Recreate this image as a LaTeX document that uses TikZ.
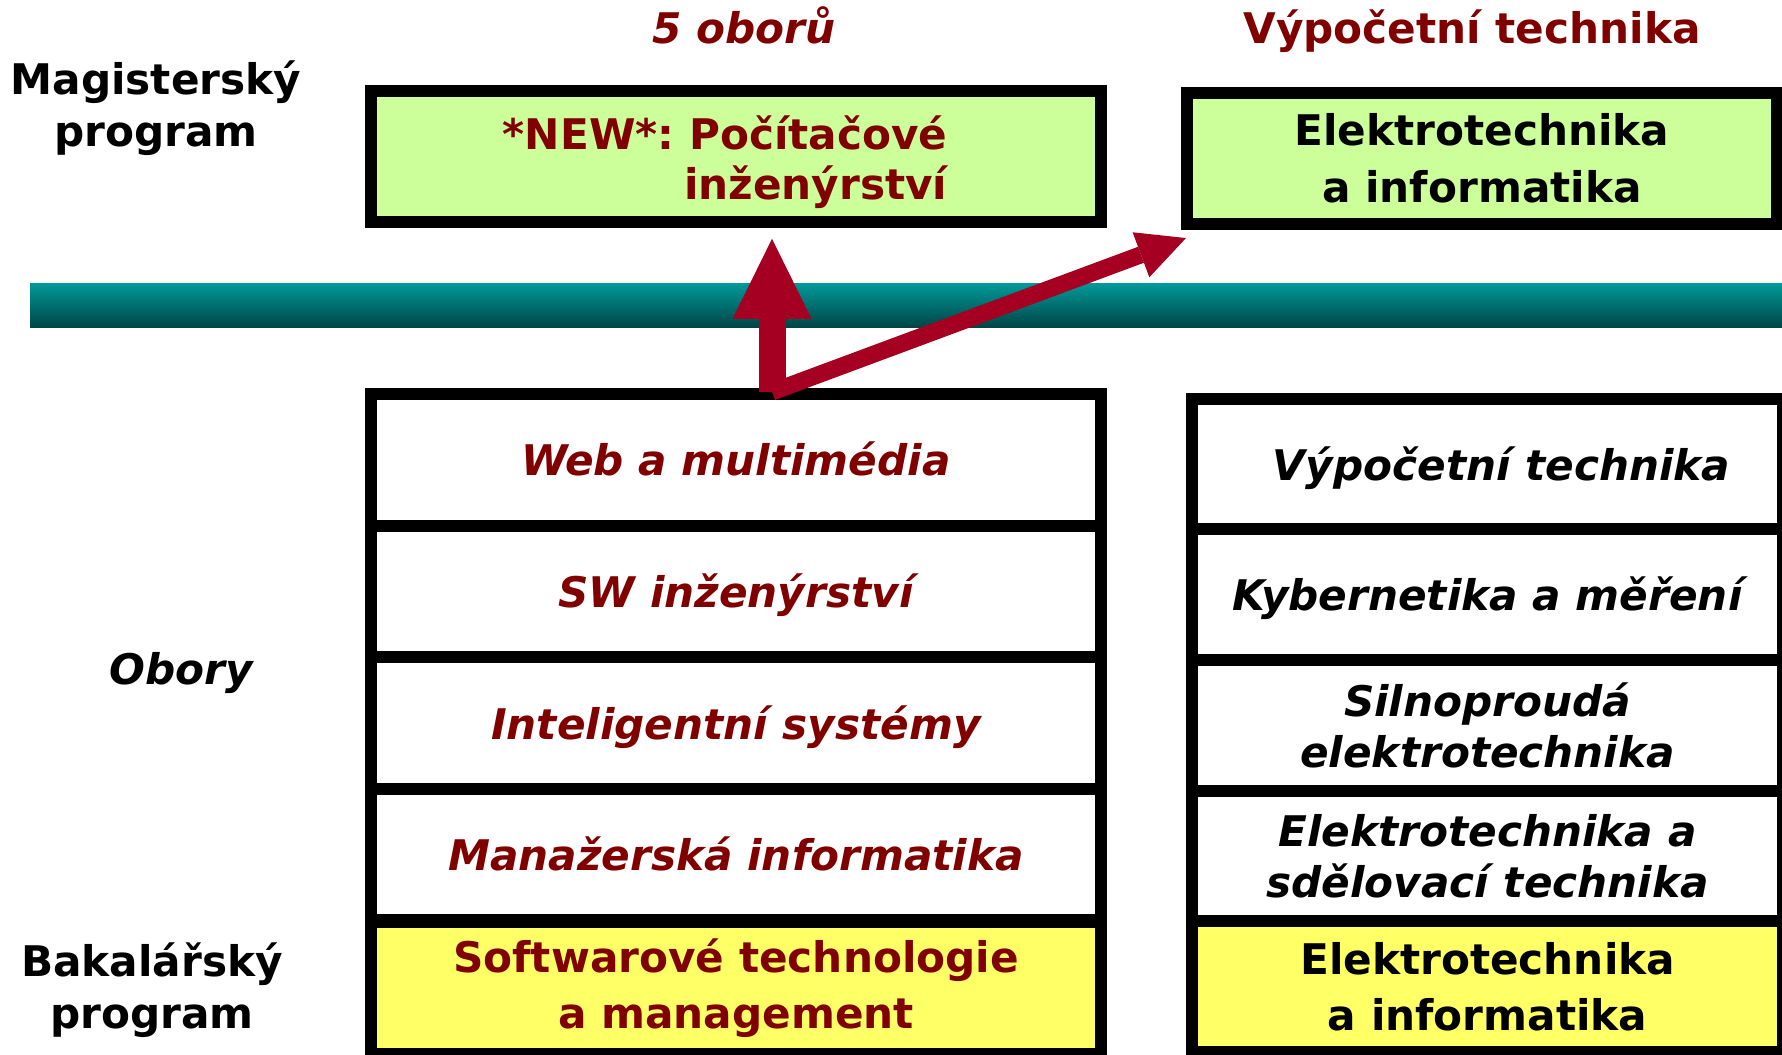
\documentclass[tikz,border=0pt]{standalone}
\usepackage{fontspec}
\setmainfont{DejaVu Sans}
\usetikzlibrary{arrows.meta}

\definecolor{txtred}{HTML}{800000}
\definecolor{arrowred}{HTML}{A50021}
\definecolor{boxgreen}{HTML}{CCFF99}
\definecolor{boxyellow}{HTML}{FFFF66}
\definecolor{barteal}{HTML}{009999}
\definecolor{bardark}{HTML}{004444}

\tikzset{
  sidetext/.style={font=\bfseries\fontsize{12}{14.8}\selectfont, align=center, inner sep=0pt},
  headtext/.style={font=\bfseries\fontsize{12}{14.5}\selectfont, text=txtred, inner sep=0pt},
  magbox/.style={draw, line width=0.12cm, fill=boxgreen, minimum height=1.305cm, inner sep=0pt,
    align=center, font=\bfseries\fontsize{12}{16.2}\selectfont},
  leftrow/.style={draw, line width=0.12cm, fill=white, minimum width=7.3cm, minimum height=1.316cm,
    inner sep=0pt, align=center, text=txtred, font=\bfseries\itshape\fontsize{12}{14.7}\selectfont},
  rightrow/.style={leftrow, minimum width=5.902cm, minimum height=1.307cm, text=black},
  oneline/.style={text height=0.92em, text depth=0pt},
  bachrow/.style={fill=boxyellow, font=\bfseries\fontsize{12}{15.8}\selectfont},
  uparrow/.style={draw=arrowred, line width=0.27cm,
    -{Triangle[length=0.8cm, width=0.79cm, line width=0pt]}},
  sidearrow/.style={draw=arrowred, line width=0.17cm,
    -{Triangle[length=0.48cm, width=0.48cm, line width=0pt]}}
}

\begin{document}
\begin{tikzpicture}[x=0.01cm, y=-0.01cm]
\useasboundingbox (0,0) rectangle (1782,1055);

% headings
\node[headtext, font=\bfseries\itshape\fontsize{12}{14.5}\selectfont, anchor=base] (oborhead) at (744,43.5) {5 oborů};
\node[headtext, anchor=base] (vthead) at (1472,43.3) {Výpočetní technika};

\node[sidetext] (mag) at (156,108) {Magisterský\\program};
\node[sidetext, font=\bfseries\itshape\fontsize{12}{14.8}\selectfont, anchor=base] (obory) at (181,684.8) {Obory};
\node[sidetext] (bak) at (152,990.5) {Bakalářský\\program};

% magisterske programy
\node[magbox, minimum width=7.3cm] (newbox) at (736,156.5) {};
\node[headtext, align=right, anchor=east, font=\bfseries\fontsize{12}{14.2}\selectfont] (newtext)
  at ([xshift=2.12cm, yshift=-0.06cm]newbox.center) {*NEW*:\ Počítačové\\inženýrství};
\node[magbox, minimum width=5.897cm] (eibox) at (1482,158.75) {Elektrotechnika\\a informatika};

% predel
\shade[top color=barteal, bottom color=bardark] (30,283.3) rectangle (1782,327.7);

% obory - levy sloupec
\node[leftrow, oneline] (web) at (736,459.8) {Web a multimédia};
\node[leftrow, oneline] (swi) at (736,591.4) {SW inženýrství};
\node[leftrow, oneline] (ints) at (736,723) {Inteligentní systémy};
\node[leftrow, oneline] (mani) at (736,854.6) {Manažerská informatika};
\node[leftrow, bachrow, text=txtred] (stm) at (736,988) {Softwarové technologie\\a management};

% obory - pravy sloupec
\node[rightrow, oneline] (vyt) at (1487.6,464.05) {\hspace*{0.28cm}Výpočetní technika};
\node[rightrow, oneline] (kym) at (1487.6,594.75) {Kybernetika a měření};
\node[rightrow] (sil) at (1487.6,725.45) {Silnoproudá\\elektrotechnika};
\node[rightrow] (est) at (1487.6,856.15) {Elektrotechnika a\\sdělovací technika};
\node[rightrow, bachrow] (eib) at (1487.6,986.85) {Elektrotechnika\\a informatika};

% navaznost
\coordinate (fork) at ([xshift=0.36cm, yshift=-0.04cm]web.north);
\draw[uparrow] (fork) -- ([xshift=0.36cm, yshift=-0.11cm]newbox.south);
\draw[sidearrow] (fork) -- ([xshift=0.05cm, yshift=-0.08cm]eibox.south west);
\end{tikzpicture}
\end{document}
